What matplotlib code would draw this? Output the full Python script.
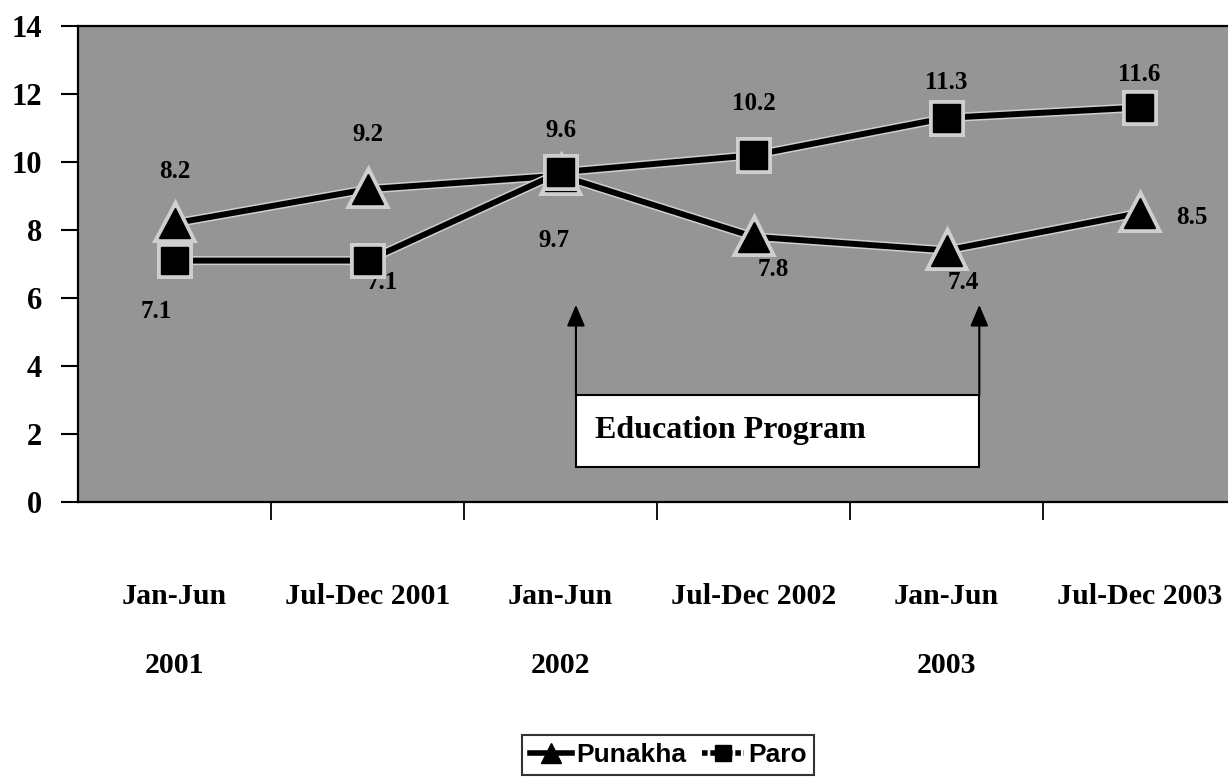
import matplotlib
matplotlib.use("Agg")
import matplotlib.pyplot as plt
from matplotlib.lines import Line2D
import matplotlib.patheffects as pe

categories = ["Jan-Jun\n2001", "Jul-Dec 2001", "Jan-Jun\n2002",
              "Jul-Dec 2002", "Jan-Jun\n2003", "Jul-Dec 2003"]
punakha = [8.2, 9.2, 9.6, 7.8, 7.4, 8.5]
paro = [7.1, 7.1, 9.7, 10.2, 11.3, 11.6]
yticks = [0, 2, 4, 6, 8, 10, 12, 14]

# label offsets in pixels (dx, dy) relative to the point
pun_off = [(0, 52), (0, 55), (0, 45), (20, -33), (17, -32), (52, -5)]
paro_off = [(-18, -51), (15, -22), (-7, -68), (0, 52), (0, 35), (0, 33)]

DPI = 100
fig = plt.figure(figsize=(12.28, 7.78), dpi=DPI)
ax = fig.add_axes([78/1228, 1-502/778, (1236-78)/1228, (502-26)/778])
ax.set_facecolor("#959595")
x = list(range(len(categories)))

halo = [pe.Stroke(linewidth=6.5, foreground="#cfcfcf"), pe.Normal()]
ax.plot(x, punakha, color="black", lw=4.3, marker="^", ms=22, zorder=3,
        mec="black", path_effects=halo)
ax.plot(x, paro, color="black", lw=4.3, marker="s", ms=20, zorder=4,
        mec="black", path_effects=halo)

tf = dict(family="Liberation Serif", weight="bold", fontsize=18)
for xi, v, (dx, dy) in zip(x, punakha, pun_off):
    ax.annotate(f"{v}", (xi, v), xytext=(dx*72/DPI, dy*72/DPI),
                textcoords="offset points", ha="center", va="center", **tf)
for xi, v, (dx, dy) in zip(x, paro, paro_off):
    ax.annotate(f"{v}", (xi, v), xytext=(dx*72/DPI, dy*72/DPI),
                textcoords="offset points", ha="center", va="center", **tf)

ax.set_xlim(-0.5, 5.5)
ax.set_ylim(0, 14)
ax.set_yticks(yticks)
ax.set_yticklabels([str(t) for t in yticks], family="Liberation Serif",
                   weight="bold", fontsize=22)
ax.tick_params(axis="y", direction="out", length=12, width=1.5, pad=14)

ax.set_xticks(x)
ax.set_xticklabels(categories, family="Liberation Serif", weight="bold",
                   fontsize=21.5, linespacing=3.0)
ax.tick_params(axis="x", which="major", length=0, pad=58)
ax.set_xticks([i - 0.5 for i in range(1, 7)], minor=True)
ax.tick_params(axis="x", which="minor", direction="out", length=13, width=1.3)

for s in ["left", "top", "bottom"]:
    ax.spines[s].set_linewidth(1.6)
ax.spines["right"].set_visible(False)

# Education program box with arrows
x0, x1 = 2.08, 4.17
y0, y1 = 1.03, 3.15
ax.add_patch(plt.Rectangle((x0, y0), x1 - x0, y1 - y0, facecolor="white",
                           edgecolor="black", lw=1.5, zorder=5))
ax.text(x0 + 0.1, (y0 + y1) / 2, "Education Program", family="Liberation Serif",
        weight="bold", fontsize=23, va="center", ha="left", zorder=6)
for xa in (x0, x1):
    ax.annotate("", xy=(xa, 5.8), xytext=(xa, y1),
                arrowprops=dict(arrowstyle="-|>,head_length=1.3,head_width=0.55",
                                color="black", lw=1.5, shrinkA=0, shrinkB=0),
                zorder=6)

handles = [Line2D([], [], color="black", lw=4, marker="^", ms=14),
           Line2D([], [], color="black", lw=4, ls=(0, (1, 0.5)), marker="s", ms=12)]
leg = fig.legend(handles, ["Punakha", "Paro"], loc="upper center",
                 bbox_to_anchor=(668/1228, 1 - 735/778), ncol=2,
                 prop=dict(family="Liberation Sans", weight="bold", size=19),
                 frameon=True, fancybox=False, edgecolor="black",
                 handlelength=1.6, handletextpad=0.15, columnspacing=0.6,
                 borderpad=0.3, borderaxespad=0)
leg.get_frame().set_linewidth(1.5)

fig.savefig("out.png", dpi=DPI)
